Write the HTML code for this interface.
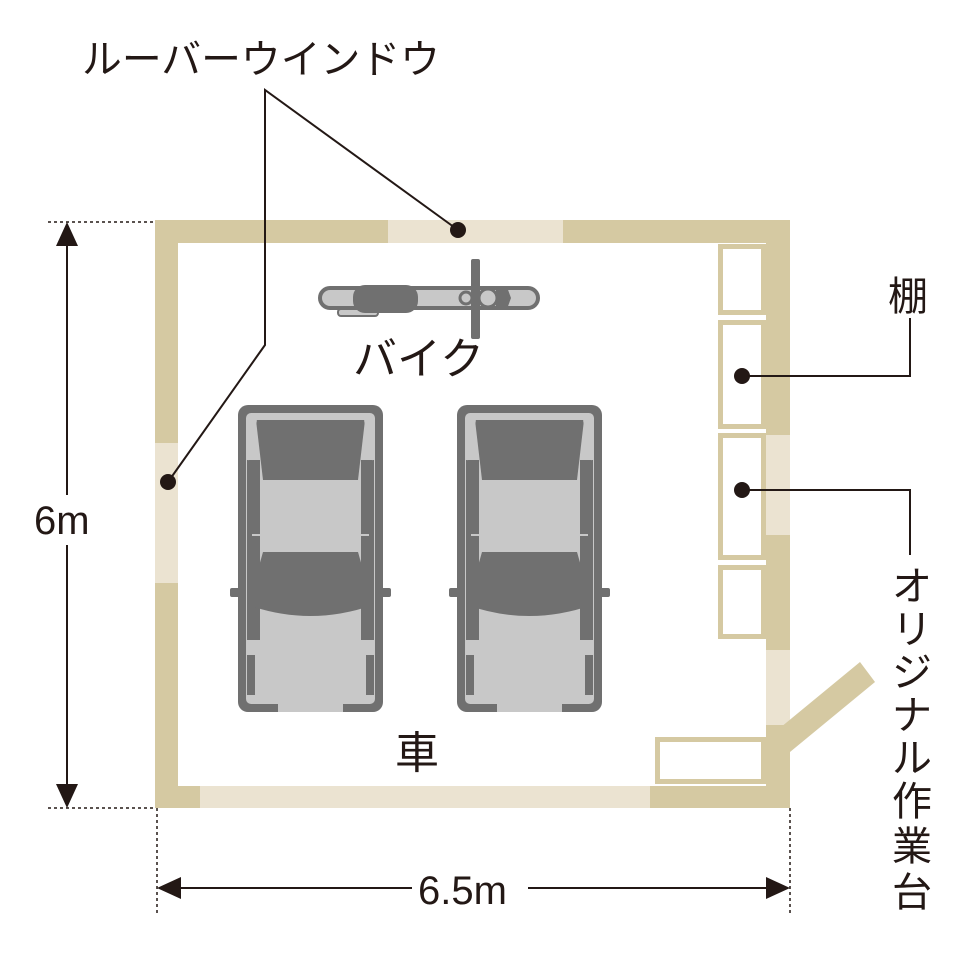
<!DOCTYPE html>
<html><head><meta charset="utf-8"><style>
html,body{margin:0;padding:0;background:#fff;}
svg{display:block;}
text{font-family:"Liberation Sans","Noto Sans CJK JP",sans-serif;fill:#231815;}
</style></head><body>
<svg width="978" height="958" viewBox="0 0 978 958" xmlns="http://www.w3.org/2000/svg">
<defs>
<g id="car">
  <rect x="0" y="0" width="145" height="307" rx="10" fill="#707070"/>
  <rect x="-8" y="183" width="161" height="9" rx="2" fill="#707070"/>
  <rect x="8" y="8" width="129" height="291" rx="5" fill="#c8c8c8"/>
  <rect x="9" y="55" width="13" height="180" fill="#707070"/>
  <rect x="123" y="55" width="13" height="180" fill="#707070"/>
  <rect x="9" y="250" width="8" height="40" fill="#707070"/>
  <rect x="128" y="250" width="8" height="40" fill="#707070"/>
  <polygon points="18,15 127,15 120,75 25,75" fill="#707070"/>
  <path d="M25,147 L120,147 L135,200 Q72,222 10,200 Z" fill="#707070"/>
  <line x1="14" y1="130" x2="131" y2="130" stroke="#c8c8c8" stroke-width="2"/>
  <line x1="18" y1="15" x2="10" y2="55" stroke="#c8c8c8" stroke-width="2"/>
  <line x1="127" y1="15" x2="135" y2="55" stroke="#c8c8c8" stroke-width="2"/>
  <rect x="40" y="299" width="65" height="8" fill="#c8c8c8"/>
</g>
</defs>

<!-- walls -->
<rect x="155" y="220" width="635" height="588" fill="#d5c9a2"/>
<rect x="178" y="243" width="588" height="543" fill="#fff"/>
<rect x="388" y="220" width="175" height="23" fill="#ebe3d1"/>
<rect x="155" y="443" width="23" height="140" fill="#ebe3d1"/>
<rect x="200" y="786" width="450" height="22" fill="#ebe3d1"/>
<rect x="766" y="435" width="24" height="100" fill="#ebe3d1"/>
<rect x="766" y="650" width="24" height="75" fill="#ebe3d1"/>
<!-- door -->
<polygon points="775,732 860,662 875,682 790,752" fill="#d5c9a2"/>

<!-- shelves -->
<g fill="none" stroke="#d5c9a2" stroke-width="5">
<rect x="720.5" y="246.5" width="43" height="66"/>
<rect x="720.5" y="322.5" width="43" height="104"/>
<rect x="720.5" y="435.5" width="43" height="122"/>
<rect x="720.5" y="567.5" width="43" height="69"/>
<rect x="657.5" y="739.5" width="106" height="42"/>
</g>

<!-- bike -->
<rect x="320" y="288" width="218" height="20" rx="10" fill="#c8c8c8" stroke="#707070" stroke-width="4"/>
<rect x="338" y="309" width="40" height="7" rx="3" fill="#c8c8c8" stroke="#707070" stroke-width="2"/>
<rect x="353" y="285" width="65" height="28" rx="12" fill="#707070"/>
<rect x="471" y="259" width="9" height="80" rx="2" fill="#707070"/>
<circle cx="466" cy="298" r="6" fill="none" stroke="#707070" stroke-width="3"/>
<circle cx="488" cy="298" r="9" fill="none" stroke="#707070" stroke-width="3"/>
<polygon points="496,290 507,287 511,298 507,309 496,306" fill="#707070"/>

<!-- cars -->
<use href="#car" transform="translate(238,405)"/>
<use href="#car" transform="translate(457,405)"/>

<!-- labels -->
<text x="82" y="73" font-size="40" textLength="358" lengthAdjust="spacingAndGlyphs">ルーバーウインドウ</text>
<text x="353" y="374" font-size="44">バイク</text>
<text x="395" y="768" font-size="44">車</text>
<text x="888" y="310" font-size="40">棚</text>
<g font-size="40">
<text x="892" y="600">オ</text>
<text x="892" y="643">リ</text>
<text x="892" y="686">ジ</text>
<text x="892" y="729">ナ</text>
<text x="892" y="772">ル</text>
<text x="892" y="815">作</text>
<text x="892" y="860">業</text>
<text x="892" y="906">台</text>
</g>

<!-- leaders -->
<g stroke="#231815" stroke-width="2" fill="none">
<polyline points="168,482 265,345 265,90 458,230"/>
<polyline points="742,376 910,376 910,318"/>
<polyline points="742,490 910,490 910,555"/>
</g>
<g fill="#231815">
<circle cx="168" cy="482" r="8"/>
<circle cx="458" cy="230" r="8"/>
<circle cx="742" cy="376" r="8"/>
<circle cx="742" cy="490" r="8"/>
</g>

<!-- dimensions -->
<g stroke="#231815" stroke-width="1.5" stroke-dasharray="3,3" fill="none">
<line x1="48" y1="222" x2="155" y2="222"/>
<line x1="48" y1="808" x2="155" y2="808"/>
<line x1="157" y1="808" x2="157" y2="913"/>
<line x1="790" y1="808" x2="790" y2="913"/>
</g>
<g stroke="#231815" stroke-width="2">
<line x1="67" y1="240" x2="67" y2="790"/>
<line x1="175" y1="888" x2="772" y2="888"/>
</g>
<g fill="#231815">
<polygon points="67,222 56,246 78,246"/>
<polygon points="67,808 56,784 78,784"/>
<polygon points="157,888 181,877 181,899"/>
<polygon points="790,888 766,877 766,899"/>
</g>
<rect x="28" y="495" width="78" height="50" fill="#fff"/>
<text x="34" y="534" font-size="40">6m</text>
<rect x="412" y="868" width="116" height="44" fill="#fff"/>
<text x="418" y="904" font-size="40">6.5m</text>
</svg>
</body></html>
